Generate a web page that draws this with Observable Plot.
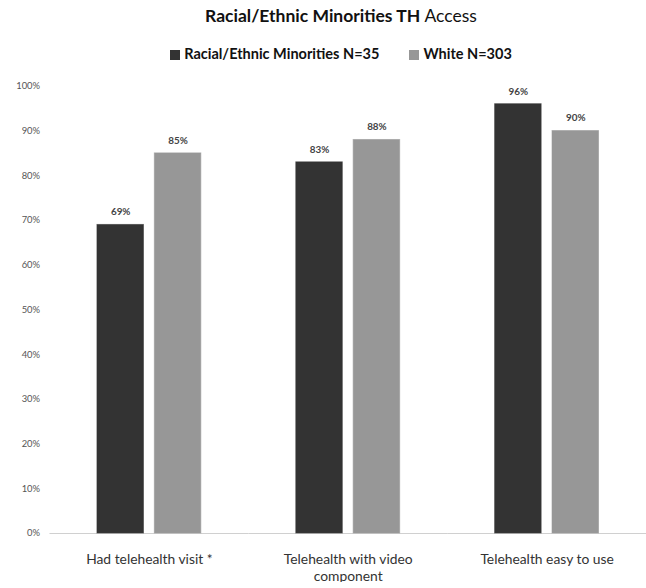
<!DOCTYPE html>
<html>
<head>
<meta charset="utf-8">
<script src="https://cdn.jsdelivr.net/npm/d3@7"></script>
<script src="https://cdn.jsdelivr.net/npm/@observablehq/plot@0.6"></script>
<style>
  body { margin: 0; background: #fff; font-family: Lato, "Open Sans", sans-serif; }
  #wrap { position: relative; width: 646px; height: 588px; overflow: hidden; background: #fff; }
  #title { position: absolute; top: 5px; left: 36px; width: 610px; text-align: center; font-size: 17.5px; font-weight: 700; color: #111; }
  #title .lt { font-weight: 400; }
  #legend { position: absolute; top: 45px; left: 36px; width: 610px; text-align: center; font-size: 14.5px; font-weight: 700; color: #111; }
  #legend .sw { display: inline-block; width: 10px; height: 10px; margin-right: 4px; vertical-align: -1px; }
  #legend .item { margin: 0 15px; }
  #chart { position: absolute; top: 70px; left: 0; }
</style>
</head>
<body>
<div id="wrap">
  <div id="title">Racial/Ethnic Minorities TH <span class="lt">Access</span></div>
  <div id="legend"></div>
  <div id="chart"></div>
</div>
<script>
const categories = ["Had telehealth visit *", "Telehealth with video\ncomponent", "Telehealth easy to use"];
const seriesNames = ["Racial/Ethnic Minorities N=35", "White N=303"];
const minoritiesValues = [0.69, 0.83, 0.96];
const whiteValues = [0.85, 0.88, 0.90];
const seriesColors = ["#333333", "#979797"];
const yTicks = [0, 0.1, 0.2, 0.3, 0.4, 0.5, 0.6, 0.7, 0.8, 0.9, 1.0];

const data = [];
categories.forEach((c, i) => {
  data.push({category: c, series: seriesNames[0], value: minoritiesValues[i]});
  data.push({category: c, series: seriesNames[1], value: whiteValues[i]});
});

const legend = document.getElementById("legend");
legend.innerHTML = seriesNames.map((s, i) =>
  `<span class="item"><span class="sw" style="background:${seriesColors[i]}"></span>${s}</span>`).join("");

const chart = Plot.plot({
  width: 653,
  height: 518,
  marginLeft: 50,
  marginRight: 0,
  marginTop: 16,
  marginBottom: 50,
  style: {fontFamily: "Lato, 'Open Sans', sans-serif", background: "#fff"},
  fx: {domain: categories, padding: 0, label: null, axis: null},
  x: {domain: seriesNames, paddingInner: 0.19, paddingOuter: 0.8, axis: null},
  y: {domain: [0, 1], axis: null},
  color: {domain: seriesNames, range: seriesColors},
  marks: [
    Plot.ruleY([0], {stroke: "#d0d0d0", strokeWidth: 1.2}),
    Plot.barY(data, {fx: "category", x: "series", y: "value", fill: "series", stroke: "series", strokeOpacity: 0.6}),
    Plot.text(data, {fx: "category", x: "series", y: "value", text: d => Math.round(d.value * 100) + "%",
      dy: -13, fontSize: 10, fontWeight: 700, fill: "#444"}),
    Plot.axisY({ticks: yTicks, tickFormat: d => Math.round(d * 100) + "%", tickSize: 0, tickPadding: 0,
      dx: -10, fontSize: 9.5, fill: "#555", label: null}),
    Plot.axisFx({anchor: "bottom", tickSize: 0, tickPadding: 19, fontSize: 14, fill: "#333", label: null, lineHeight: 1.2})
  ]
});
document.getElementById("chart").appendChild(chart);
</script>
</body>
</html>
